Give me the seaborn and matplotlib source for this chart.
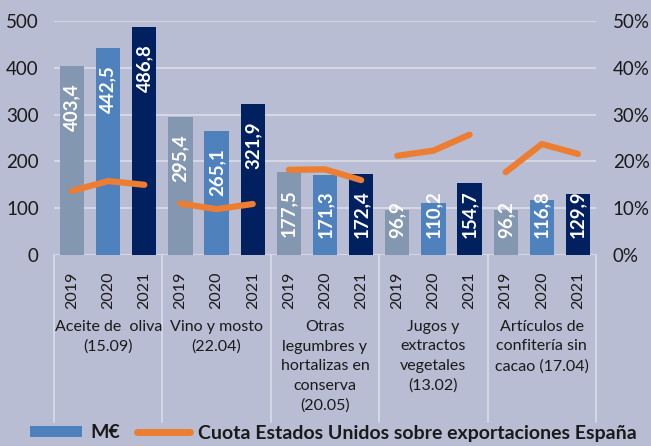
import numpy as np
import pandas as pd
import matplotlib
matplotlib.use("Agg")
import matplotlib.pyplot as plt
import matplotlib.transforms as mtransforms
from matplotlib.patches import Patch
from matplotlib.lines import Line2D
from matplotlib.ticker import FuncFormatter
import seaborn as sns

# ---------------- data ----------------
groups = ["Aceite de  oliva\n(15.09)",
          "Vino y mosto\n(22.04)",
          "Otras\nlegumbres y\nhortalizas en\nconserva\n(20.05)",
          "Jugos y\nextractos\nvegetales\n(13.02)",
          "Artículos de\nconfitería sin\ncacao (17.04)"]
years = ["2019", "2020", "2021"]
values_2019 = [403.4, 295.4, 177.5, 96.9, 96.2]
values_2020 = [442.5, 265.1, 171.3, 110.2, 116.8]
values_2021 = [486.8, 321.9, 172.4, 154.7, 129.9]
share_2019 = [13.7, 11.0, 18.2, 21.2, 17.7]
share_2020 = [15.8, 9.8, 18.3, 22.3, 23.7]
share_2021 = [15.0, 10.9, 16.0, 25.7, 21.6]
legend_labels = ["M€", "Cuota Estados Unidos sobre exportaciones España"]

vals = [values_2019, values_2020, values_2021]
shares = [share_2019, share_2020, share_2021]
rows = []
for gi, g in enumerate(groups):
    for yi, y in enumerate(years):
        rows.append({"grupo": gi, "anio": y, "pos": gi * 3 + yi,
                     "valor": vals[yi][gi], "cuota": shares[yi][gi]})
df = pd.DataFrame(rows)

# ---------------- style ----------------
BG = "#B8BDD3"
GRID = "#D8DBE7"
TXT = "#1A1A1A"
COLORS = {"2019": "#8497B0", "2020": "#4F81BD", "2021": "#002060"}
ORANGE = "#ED7D31"

sns.set_theme(style="white")
plt.rcParams["font.family"] = ["Lato", "DejaVu Sans"]

W, H = 651, 446
fig = plt.figure(figsize=(W / 100, H / 100), dpi=100, facecolor=BG)
ax = fig.add_axes([54 / W, 1 - 255 / H, 542 / W, 234 / H])
ax.set_facecolor(BG)

sns.barplot(data=df, x="pos", y="valor", hue="anio", palette=COLORS,
            dodge=False, width=0.67, saturation=1, legend=False, ax=ax,
            linewidth=0, edgecolor="none")

ax.set_xlim(-0.5, 14.5)
ax.set_ylim(0, 500)
ax.set_yticks(range(0, 501, 100))
ax.set_axisbelow(True)
ax.yaxis.grid(True, color=GRID, lw=1.3)
for s in ax.spines.values():
    s.set_visible(False)
ax.set_xlabel("")
ax.set_ylabel("")
ax.tick_params(axis="both", length=0)
ax.tick_params(axis="y", labelsize=13.5, pad=11, labelcolor=TXT)
ax.set_xticks(range(15))
ax.set_xticklabels(years * 5, rotation=90, fontsize=11.5, color=TXT)
ax.tick_params(axis="x", pad=12)

# bar value labels (read each bar's own height)
fig.canvas.draw()
renderer = fig.canvas.get_renderer()
px_per_unit = 234 / 500
off = 17 / px_per_unit
for bar in ax.patches:
    v = bar.get_height()
    if not np.isfinite(v) or v <= 0:
        continue
    xc = bar.get_x() + bar.get_width() / 2
    lbl = f"{v:.1f}".replace(".", ",")
    t = ax.text(xc, v - off, lbl, rotation=90, ha="center", va="top",
                color="white", fontsize=13.5, fontweight="bold")
    bb = t.get_window_extent(renderer)
    length_units = bb.height / px_per_unit
    if v - off - length_units < off:
        t.set_y(off)
        t.set_va("bottom")

# share line on secondary axis
ax2 = ax.twinx()
sns.lineplot(data=df, x="pos", y="cuota", units="grupo", estimator=None,
             color=ORANGE, lw=4.5, solid_capstyle="round", ax=ax2, legend=False)
ax2.set_ylim(0, 50)
ax2.set_yticks(range(0, 51, 10))
ax2.yaxis.set_major_formatter(FuncFormatter(lambda v, p: f"{v:.0f}%"))
ax2.tick_params(axis="y", length=0, labelsize=13.5, pad=12, labelcolor=TXT)
ax2.set_ylabel("")
ax2.set_xlabel("")
for s in ax2.spines.values():
    s.set_visible(False)
ax2.set_xlim(-0.5, 14.5)

# group separators and category labels
trans = mtransforms.blended_transform_factory(ax.transData, ax.transAxes)
for xs in [-0.5, 2.5, 5.5, 8.5, 11.5, 14.5]:
    ax.add_line(Line2D([xs, xs], [0, -167 / 234], transform=trans, color=GRID,
                       lw=1.3, clip_on=False))
for gi, g in enumerate(groups):
    ax.text(gi * 3 + 1, -65 / 234, g, transform=trans, ha="center", va="top",
            fontsize=11.5, color=TXT, linespacing=1.5)

# legend
handles = [Patch(facecolor=COLORS["2020"], edgecolor="none"),
           Line2D([0], [0], color=ORANGE, lw=5, solid_capstyle="round")]
fig.legend(handles, legend_labels, loc="center", bbox_to_anchor=(333 / W, 1 - 433 / H),
           ncol=2, frameon=False, prop={"weight": "bold", "size": 14},
           handlelength=2.7, handleheight=0.5, handletextpad=0.4, columnspacing=0.9,
           labelcolor=TXT)

fig.savefig("out.png", dpi=100, facecolor=BG)
